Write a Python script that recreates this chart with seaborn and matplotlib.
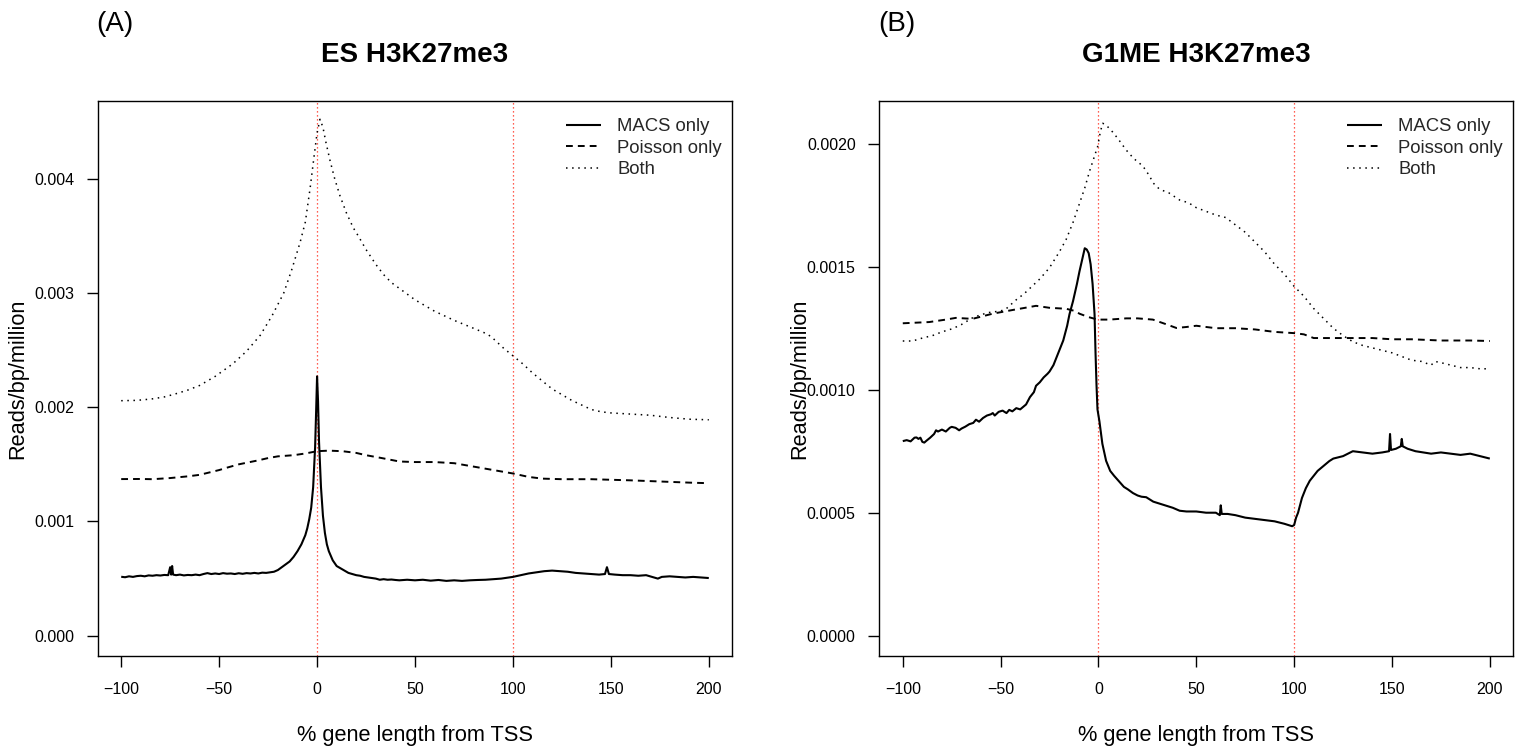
import numpy as np
import pandas as pd
import matplotlib
matplotlib.use("Agg")
import matplotlib.pyplot as plt
import seaborn as sns

sns.set_theme(style="white")
plt.rcParams['font.family'] = ['Liberation Sans', 'DejaVu Sans']

SCALE = 1e-3  # values below are in units of 1e-3 reads/bp/million
TSS_MARKS = [0, 100]
X_TICKS = [-100, -50, 0, 50, 100, 150, 200]
SERIES = ["MACS only", "Poisson only", "Both"]

# ---------------- Panel A : ES H3K27me3 ----------------
a_macs_x = [-100, -98, -96, -94, -92, -90, -88, -86, -84, -82, -80, -78, -76, -75, -74.5, -74, -73.5,
            -72, -70, -68, -66, -64, -62, -60, -58, -56, -54, -52, -50, -48, -46, -44, -42, -40,
            -38, -36, -34, -32, -30, -28, -26, -24, -22, -20, -18, -16, -14, -12, -10, -8, -6, -5,
            -4, -3, -2, -1, -0.5, 0, 0.5, 1, 2, 3, 4, 5, 6, 8, 10, 12, 14, 16, 18, 20, 22, 24, 26,
            28, 30, 32, 34, 36, 38, 40, 42, 46, 50, 54, 58, 62, 66, 70, 74, 78, 82, 86, 90, 94, 98,
            100, 104, 108, 112, 116, 120, 124, 128, 132, 136, 140, 144, 147, 148, 149, 152, 156,
            160, 164, 168, 170, 172, 174, 176, 180, 184, 188, 192, 196, 200]
a_macs_y = [.516, .512, .520, .515, .522, .525, .520, .528, .525, .530, .527, .532, .530, .600, .535,
            .610, .535, .530, .535, .528, .532, .530, .535, .530, .540, .548, .540, .545, .540, .548,
            .543, .545, .540, .547, .542, .548, .545, .550, .545, .552, .550, .555, .560, .575, .600,
            .625, .650, .690, .740, .800, .880, .940, 1.02, 1.12, 1.30, 1.65, 1.95, 2.27, 2.05, 1.70,
            1.30, 1.05, .90, .80, .74, .66, .61, .59, .57, .55, .54, .53, .525, .515, .51, .505, .50,
            .49, .495, .49, .492, .488, .485, .49, .485, .49, .482, .488, .48, .485, .48, .485, .488,
            .49, .495, .50, .51, .515, .53, .545, .555, .565, .57, .565, .56, .55, .545, .54, .535,
            .54, .60, .54, .535, .53, .53, .525, .53, .52, .51, .50, .515, .52, .515, .51, .515, .51,
            .505]

a_pois_x = [-100, -90, -84, -75, -66, -60, -50, -46, -40, -30, -25, -20, -12, -6, 0, 6, 13, 20, 25,
            33, 42, 50, 60, 70, 80, 90, 100, 108, 115, 125, 140, 150, 160, 175, 190, 200]
a_pois_y = [1.371, 1.372, 1.370, 1.380, 1.395, 1.408, 1.45, 1.471, 1.50, 1.535, 1.555, 1.57, 1.58,
            1.595, 1.615, 1.62, 1.615, 1.60, 1.58, 1.555, 1.525, 1.52, 1.52, 1.51, 1.48, 1.45, 1.42,
            1.39, 1.375, 1.37, 1.37, 1.365, 1.36, 1.35, 1.34, 1.335]

a_both_x = [-100, -92, -84.5, -78, -73, -66, -60, -52, -43, -36, -29, -23, -17, -13, -8.7, -6, -3.6,
            -1.5, 0, 1.5, 3, 4.5, 6.6, 9, 11.7, 15, 18.5, 21, 25, 30, 34, 38, 42, 50, 60, 70, 80, 87,
            90, 95, 100, 105, 110, 115, 120, 125, 130, 135, 140, 145, 150, 160, 170, 180, 190, 200]
a_both_y = [2.057, 2.06, 2.072, 2.09, 2.113, 2.15, 2.19, 2.27, 2.38, 2.49, 2.63, 2.80, 3.00, 3.20,
            3.44, 3.62, 3.91, 4.20, 4.40, 4.52, 4.45, 4.32, 4.16, 4.00, 3.85, 3.70, 3.57, 3.50, 3.38,
            3.25, 3.16, 3.09, 3.04, 2.94, 2.84, 2.76, 2.69, 2.64, 2.60, 2.52, 2.45, 2.38, 2.30, 2.23,
            2.16, 2.11, 2.06, 2.02, 1.98, 1.96, 1.95, 1.94, 1.93, 1.91, 1.895, 1.89]

# ---------------- Panel B : G1ME H3K27me3 ----------------
b_macs_x = [-100, -98, -96, -94, -93, -92, -91, -90, -89, -88, -86, -84, -83, -82, -80, -78, -76, -75,
            -73, -71.2, -70, -68, -66, -64, -62.6, -61, -59, -57, -55, -54, -53, -51, -49, -47,
            -45.6, -44, -42, -40, -38.8, -37, -35, -33, -31.9, -30, -28, -26, -25, -23, -22, -20,
            -18, -16, -14.8, -13, -11, -9.7, -8, -7, -6, -5, -4, -3, -2, -1.5, -1, -0.5, 0.5, 2,
            3.9, 6, 8, 10.8, 13, 15, 17.6, 20, 22, 24.4, 26, 28, 31.2, 34, 38, 41.5, 45, 50, 55, 60,
            62, 62.5, 63, 66, 70, 75, 80, 85, 90, 95, 99, 100, 101, 102, 104, 106, 108, 110, 112,
            115, 118, 120, 125, 130, 135, 140, 145, 148.5, 149, 149.5, 152, 154.5, 155, 155.5, 158,
            162, 166, 170, 175, 180, 185, 190, 195, 200]
b_macs_y = [.791, .795, .790, .805, .806, .800, .805, .788, .785, .792, .805, .820, .835, .830, .838,
            .830, .845, .849, .845, .835, .842, .850, .860, .865, .878, .870, .885, .895, .900, .905,
            .895, .910, .915, .905, .918, .912, .925, .920, .928, .940, .970, .990, 1.016, 1.03,
            1.05, 1.065, 1.074, 1.10, 1.12, 1.161, 1.20, 1.26, 1.307, 1.36, 1.43, 1.481, 1.54, 1.575,
            1.57, 1.555, 1.51, 1.43, 1.307, 1.15, 1.02, .92, .871, .78, .711, .67, .65, .625, .605,
            .595, .58, .57, .565, .563, .555, .545, .537, .53, .52, .508, .505, .505, .50, .50, .49,
            .53, .495, .495, .49, .48, .475, .47, .465, .455, .445, .45, .48, .50, .56, .60, .63, .65,
            .67, .69, .71, .72, .73, .75, .745, .74, .745, .75, .82, .755, .76, .77, .80, .77, .76,
            .75, .745, .74, .745, .74, .735, .74, .73, .72]

b_pois_x = [-100, -86.5, -78, -72.9, -64.4, -54.1, -43.9, -36, -31.9, -25.1, -16.5, -12, -9.7, -5,
            -0.4, 5.6, 14.2, 20, 27.8, 35, 39.8, 45, 50, 60, 70, 80, 90, 100, 105, 110, 120, 130,
            140, 150, 160, 175, 190, 200]
b_pois_y = [1.270, 1.275, 1.285, 1.292, 1.288, 1.309, 1.324, 1.335, 1.341, 1.333, 1.329, 1.32, 1.309,
            1.295, 1.285, 1.285, 1.29, 1.29, 1.285, 1.265, 1.251, 1.255, 1.26, 1.25, 1.25, 1.245,
            1.235, 1.23, 1.225, 1.21, 1.21, 1.21, 1.21, 1.205, 1.205, 1.20, 1.20, 1.198]

b_both_x = [-100, -95, -90, -84.8, -80, -74.6, -70, -64.4, -60, -55.8, -50, -47.3, -42.1, -38, -33.6,
            -30, -25.1, -20, -16.5, -13, -9.7, -7, -4.6, -2, -0.4, 1, 2.2, 4, 7.3, 10, 14.2, 18, 22.7,
            26, 28, 31.2, 36, 41.5, 46, 50, 55, 60, 65, 70, 75, 80, 85, 90, 95, 100, 105, 110, 115,
            120, 125, 130, 135, 140, 145, 150, 155, 160, 165, 170, 172, 175, 180, 185, 190, 195, 200]
b_both_y = [1.198, 1.198, 1.21, 1.22, 1.235, 1.248, 1.265, 1.292, 1.305, 1.314, 1.32, 1.328, 1.365,
            1.39, 1.423, 1.45, 1.495, 1.56, 1.611, 1.68, 1.757, 1.82, 1.887, 1.95, 1.989, 2.05, 2.083,
            2.075, 2.047, 2.02, 1.974, 1.94, 1.909, 1.87, 1.84, 1.815, 1.80, 1.771, 1.76, 1.74, 1.725,
            1.71, 1.70, 1.67, 1.64, 1.60, 1.56, 1.51, 1.47, 1.42, 1.38, 1.33, 1.29, 1.25, 1.22, 1.195,
            1.18, 1.17, 1.16, 1.15, 1.135, 1.12, 1.115, 1.10, 1.115, 1.11, 1.10, 1.09, 1.09, 1.085,
            1.085]

panels = [
    dict(tag="(A)", title="ES H3K27me3", ylim=(-0.00018, 0.00468),
         yticks=[0, 0.001, 0.002, 0.003, 0.004], fmt="{:.3f}",
         series=[(a_macs_x, a_macs_y), (a_pois_x, a_pois_y), (a_both_x, a_both_y)],
         rect=[97.7, 101, 732.3, 656.3]),
    dict(tag="(B)", title="G1ME H3K27me3", ylim=(-0.0000837, 0.0021736),
         yticks=[0, 0.0005, 0.001, 0.0015, 0.002], fmt="{:.4f}",
         series=[(b_macs_x, b_macs_y), (b_pois_x, b_pois_y), (b_both_x, b_both_y)],
         rect=[879.3, 101, 1513.3, 656.3]),
]

W, H = 1525, 753
fig = plt.figure(figsize=(W / 100, H / 100), dpi=100)
fig.patch.set_facecolor("white")

styles = [dict(lw=1.5, dashes=None), dict(lw=1.4, dashes=[3.5, 2.6]), dict(lw=1.1, dashes=[1, 3])]

for p in panels:
    l, t, r, b = p["rect"]
    ax = fig.add_axes([l / W, 1 - b / H, (r - l) / W, (b - t) / H])
    ax.set_facecolor("white")
    handles = []
    for (xs, ys), name, st in zip(p["series"], SERIES, styles):
        df = pd.DataFrame({"x": xs, "y": np.array(ys) * SCALE})
        sns.lineplot(data=df, x="x", y="y", ax=ax, color="black", linewidth=st["lw"],
                     estimator=None, sort=False, label=name)
        ln = ax.lines[-1]
        if st["dashes"] is not None:
            ln.set_dashes(st["dashes"])
        ln.set_solid_capstyle("butt")
        handles.append(ln)
    for xv in TSS_MARKS:
        ax.axvline(xv, color="#ff2a1a", lw=0.9, ls=(0, (1, 2.2)), zorder=0)
    ax.set_xlim(-112, 212)
    ax.set_ylim(*p["ylim"])
    ax.set_xticks(X_TICKS)
    ax.set_xticklabels([str(v).replace("-", "\u2212") for v in X_TICKS])
    ax.set_yticks(p["yticks"])
    ax.set_yticklabels([p["fmt"].format(v) for v in p["yticks"]])
    ax.tick_params(axis="both", direction="out", length=8, width=1.0, color="black",
                   labelsize=11.5, labelcolor="black", bottom=True, left=True)
    ax.tick_params(axis="x", pad=10.5)
    ax.tick_params(axis="y", pad=9.0)
    for s in ax.spines.values():
        s.set_visible(True)
        s.set_color("black")
        s.set_linewidth(1.0)
    ax.set_xlabel("% gene length from TSS", fontsize=15.7, color="black")
    ax.xaxis.set_label_coords(0.5, (b - 736) / (b - t))
    ax.xaxis.label.set_va("center")
    ax.set_ylabel("Reads/bp/million", fontsize=15.7, color="black")
    ax.yaxis.set_label_coords((18 - 97.7) / (732.3 - 97.7), 0.5)
    ax.yaxis.label.set_va("center")
    leg = ax.legend(handles=handles, labels=SERIES, loc="upper left",
                    bbox_to_anchor=(0.7382, 0.969), frameon=False, fontsize=13.3,
                    handlelength=1.86, handletextpad=0.9, labelspacing=0.25,
                    borderpad=0, borderaxespad=0)
    cx = (l + r) / 2 / W
    fig.text(cx, 1 - 62.3 / H, p["title"], ha="center", va="baseline", fontsize=20,
             fontweight="bold", color="black")
    fig.text(l / W - 0.001, 1 - 24 / H, p["tag"], ha="left", va="center", fontsize=20,
             color="black")

fig.savefig("out.png", dpi=100, facecolor="white")
